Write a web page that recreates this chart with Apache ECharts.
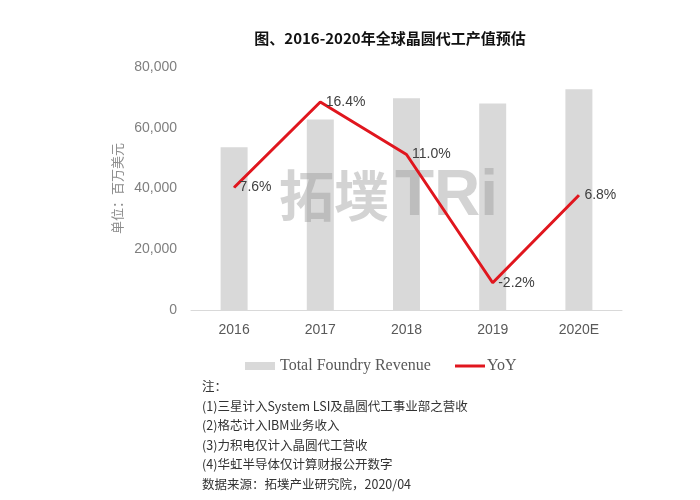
<!DOCTYPE html>
<html><head><meta charset="utf-8">
<script src="https://cdn.jsdelivr.net/npm/echarts@6/dist/echarts.min.js"></script>
<style>html,body{margin:0;padding:0;background:#fff}#c{width:700px;height:500px}</style>
</head><body><div id="c"></div>
<script>
const categories = ['2016','2017','2018','2019','2020E'];
const revenue = [53600, 62700, 69700, 68000, 72700];
const yoy = [7.6, 16.4, 11.0, -2.2, 6.8];
const notes = ['注：','(1)三星计入System LSI及晶圆代工事业部之营收','(2)格芯计入IBM业务收入','(3)力积电仅计入晶圆代工营收','(4)华虹半导体仅计算财报公开数字','数据来源：拓墣产业研究院，2020/04'];

const chart = echarts.init(document.getElementById('c'));
const noteGraphics = notes.map((t,i)=>({type:'text',left:202,top:380+i*19.6,style:{text:t,fill:'#333',font:'12.5px "Noto Sans CJK SC"'}}));
chart.setOption({
  animation:false,
  title:{text:'图、2016-2020年全球晶圆代工产值预估',left:385,textAlign:'center',top:26,textStyle:{fontFamily:'Noto Sans CJK SC',fontWeight:'bold',fontSize:15,color:'#111'}},
  grid:{left:191,right:78,top:67,bottom:190,containLabel:false},
  legend:[
    {top:353,left:240,itemWidth:30,itemHeight:8,textStyle:{fontFamily:'Liberation Serif',fontSize:16,color:'#595959'},
      data:[{name:'Total Foundry Revenue',icon:'rect'}]},
    {top:353,left:450,itemWidth:30,itemHeight:3,itemGap:2,textStyle:{fontFamily:'Liberation Serif',fontSize:16,color:'#595959',padding:[0,0,0,-3]},
      data:[{name:'YoY',icon:'rect'}]}
  ],
  xAxis:{type:'category',data:categories,axisTick:{show:false},axisLine:{lineStyle:{color:'#d9d9d9'}},
    axisLabel:{color:'#595959',fontSize:14,fontFamily:'Liberation Sans',margin:13}},
  yAxis:[{type:'value',min:0,max:80000,interval:20000,splitLine:{show:false},axisLine:{show:false},
    axisLabel:{color:'#7f7f7f',fontSize:14,fontFamily:'Liberation Sans',margin:14,formatter:v=>v.toLocaleString('en-US')},
    name:'单位：百万美元',nameLocation:'middle',nameGap:62,nameTextStyle:{color:'#8c8c8c',fontSize:13,fontFamily:'Noto Sans CJK SC'}},
    {type:'value',min:-5,max:20,show:false,splitLine:{show:false}}],
  graphic:[
    {type:'text',left:279,top:168,z:5,style:{text:'拓墣',fill:'rgba(150,150,150,0.42)',font:'bold 55px "Noto Sans CJK SC"'}},
    {type:'text',left:395,top:165,z:5,style:{text:'TRi',fill:'rgba(150,150,150,0.42)',font:'bold 64px "Liberation Sans"'}}
  ].concat(noteGraphics),
  series:[
    {name:'Total Foundry Revenue',type:'bar',data:revenue,barWidth:27,itemStyle:{color:'#d9d9d9'},z:1},
    {name:'YoY',type:'line',yAxisIndex:1,data:yoy,symbol:'circle',symbolSize:1,showSymbol:true,lineStyle:{color:'#e0161e',width:3},itemStyle:{color:'#e0161e'},z:10,
      label:{show:true,position:'right',distance:5,formatter:p=>p.value.toFixed(1)+'%',color:'#404040',fontSize:14,fontFamily:'Liberation Sans'}}
  ]
});
</script></body></html>
